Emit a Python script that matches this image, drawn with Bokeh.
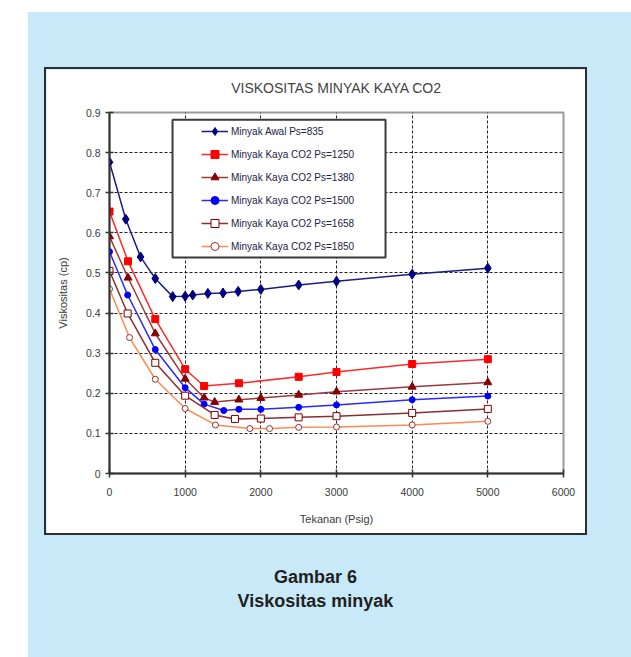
from bokeh.plotting import figure
from bokeh.models import FixedTicker, Legend, LegendItem, BoxAnnotation, Spacer, Div, LinearAxis
from bokeh.layouts import column, row
from bokeh.embed import file_html
from bokeh.resources import INLINE

# ---------------- data ----------------
title_text = "VISKOSITAS MINYAK KAYA CO2"
x_label = "Tekanan (Psig)"
y_label = "Viskositas (cp)"

x_ticks = [0, 1000, 2000, 3000, 4000, 5000, 6000]
x_tick_labels = ["0", "1000", "2000", "3000", "4000", "5000", "6000"]
y_ticks = [0, 0.1, 0.2, 0.3, 0.4, 0.5, 0.6, 0.7, 0.8, 0.9]
y_tick_labels = ["0", "0.1", "0.2", "0.3", "0.4", "0.5", "0.6", "0.7", "0.8", "0.9"]

series_names = [
    "Minyak Awal Ps=835",
    "Minyak Kaya CO2 Ps=1250",
    "Minyak Kaya CO2 Ps=1380",
    "Minyak Kaya CO2 Ps=1500",
    "Minyak Kaya CO2 Ps=1658",
    "Minyak Kaya CO2 Ps=1850",
]

x_awal = [0, 215, 410, 605, 835, 1000, 1100, 1300, 1500, 1700, 2000, 2500, 3000, 4000, 5000]
y_awal = [0.776, 0.634, 0.540, 0.486, 0.441, 0.442, 0.445, 0.449, 0.450, 0.454, 0.459, 0.470, 0.479, 0.497, 0.512]

x_1250 = [0, 245, 605, 1000, 1250, 1710, 2500, 3000, 4000, 5000]
y_1250 = [0.653, 0.529, 0.385, 0.260, 0.218, 0.225, 0.241, 0.253, 0.273, 0.285]

x_1380 = [0, 245, 605, 1000, 1250, 1390, 1710, 2000, 2500, 3000, 4000, 5000]
y_1380 = [0.591, 0.488, 0.349, 0.236, 0.189, 0.178, 0.184, 0.188, 0.196, 0.204, 0.216, 0.227]

x_1500 = [0, 240, 605, 1000, 1250, 1510, 1710, 2000, 2500, 3000, 4000, 5000]
y_1500 = [0.553, 0.445, 0.309, 0.214, 0.173, 0.157, 0.160, 0.160, 0.165, 0.171, 0.184, 0.193]

x_1658 = [0, 240, 605, 1000, 1390, 1658, 2000, 2500, 3000, 4000, 5000]
y_1658 = [0.505, 0.399, 0.276, 0.194, 0.146, 0.136, 0.137, 0.140, 0.143, 0.151, 0.161]

x_1850 = [0, 265, 605, 1000, 1400, 1855, 2115, 2500, 3000, 4000, 5000]
y_1850 = [0.460, 0.339, 0.235, 0.162, 0.121, 0.112, 0.112, 0.115, 0.116, 0.121, 0.130]

caption_line1 = "Gambar 6"
caption_line2 = "Viskositas minyak"

# ---------------- styles ----------------
FONT = "Liberation Sans"
BLUE_BG = "#c7e9f8"

styles = [
    # line color, marker, marker fill, marker line, size
    ("#1c1c86", "diamond", "#000080", "#000080", 10),
    ("#ff2a2a", "square", "#ff0000", "#ff0000", 7),
    ("#9a3a3a", "triangle", "#880000", "#880000", 8),
    ("#2a2aff", "circle", "#0000ff", "#0000ff", 6),
    ("#8a2e2e", "square", "white", "#800000", 7),
    ("#ff8a50", "circle", "white", "#9a3030", 6),
]
xs = [x_awal, x_1250, x_1380, x_1500, x_1658, x_1850]
ys = [y_awal, y_1250, y_1380, y_1500, y_1658, y_1850]

p = figure(width=539, height=464, x_range=(0, 6000), y_range=(0, 0.9),
           output_backend="svg", toolbar_location=None,
           min_border_left=63, min_border_right=22, min_border_top=43, min_border_bottom=60,
           background_fill_color="white", border_fill_color="white",
           styles={"box-shadow": "0 0 0 2px #2e2e2e"})

xax = p.below[0]
yax = p.left[0]

# an invisible axis above the frame that only leaves a gap under the title
gap_axis = LinearAxis(ticker=FixedTicker(ticks=[3000]), major_label_overrides={3000: ""},
                      axis_line_color=None, major_tick_line_color=None,
                      minor_tick_line_color=None, major_tick_in=0, major_tick_out=10,
                      minor_tick_in=0, minor_tick_out=0, major_label_standoff=0,
                      major_label_text_font_size="0px")
p.add_layout(gap_axis, "above")

p.title.text = title_text
p.title.align = "center"
p.title.text_font = FONT
p.title.text_font_size = "14px"
p.title.text_font_style = "normal"
p.title.text_color = "#444444"
p.title.standoff = 14

p.outline_line_color = "#9a9a9a"
p.outline_line_width = 2

for ax in (xax, yax):
    ax.axis_line_color = "#333333"
    ax.axis_line_width = 2
    ax.major_tick_line_color = "#333333"
    ax.major_tick_line_width = 1.5
    ax.major_tick_in = 4
    ax.major_tick_out = 4
    ax.minor_tick_line_color = None
    ax.major_label_text_font = FONT
    ax.major_label_text_font_size = "10.5px"
    ax.major_label_text_color = "#3a3a3a"
    ax.axis_label_text_font = FONT
    ax.axis_label_text_font_size = "11px"
    ax.axis_label_text_font_style = "normal"
    ax.axis_label_text_color = "#3a3a3a"

xax.ticker = FixedTicker(ticks=x_ticks)
xax.major_label_overrides = dict(zip(x_ticks, x_tick_labels))
xax.axis_label = x_label
xax.major_label_standoff = 10
xax.axis_label_standoff = 14
yax.ticker = FixedTicker(ticks=y_ticks)
yax.major_label_overrides = dict(zip(y_ticks, y_tick_labels))
yax.axis_label = y_label
yax.major_label_standoff = 5
yax.axis_label_standoff = 14

for g in (p.xgrid[0], p.ygrid[0]):
    g.grid_line_color = "#222222"
    g.grid_line_dash = "3 2"
    g.grid_line_width = 1

items = []
for name, x, y, (lc, mk, fc, mlc, sz) in zip(series_names, xs, ys, styles):
    lr = p.line(x, y, line_color=lc, line_width=1.5)
    sr = p.scatter(x, y, marker=mk, size=sz, fill_color=fc, line_color=mlc, line_width=1)
    items.append(LegendItem(label=name, renderers=[lr, sr]))

legend_box = BoxAnnotation(left=833, right=3648, bottom=0.5385, top=0.882,
                           fill_color="white", fill_alpha=1,
                           line_color="#3a3a3a", line_width=2, line_alpha=1)
p.add_layout(legend_box)

legend = Legend(items=items, location=(92, 217), padding=0, margin=0, spacing=3,
                label_height=20, glyph_height=20, glyph_width=27, label_standoff=3,
                border_line_alpha=0, background_fill_alpha=0,
                label_text_font=FONT, label_text_font_size="10px", label_text_color="#222244")
p.add_layout(legend, "center")

caption = Div(
    text=('<div style="width:575px;text-align:center;padding-top:32px;'
          'font-family:\'Liberation Sans\',Arial,sans-serif;'
          'font-weight:bold;font-size:18px;line-height:24px;color:#231f20;">'
          + caption_line1 + "<br>" + caption_line2 + "</div>"),
    width=603, height=124, margin=0)

panel = column(
    Spacer(width=603, height=57, margin=0),
    row(Spacer(width=18, height=464, margin=0), p, margin=0),
    caption,
    margin=0,
    styles={"background-color": BLUE_BG},
)

root = column(
    Spacer(width=631, height=12, margin=0),
    row(Spacer(width=28, height=645, margin=0), panel, margin=0),
    margin=0,
)

open("out.html", "w").write(file_html(root, INLINE))
